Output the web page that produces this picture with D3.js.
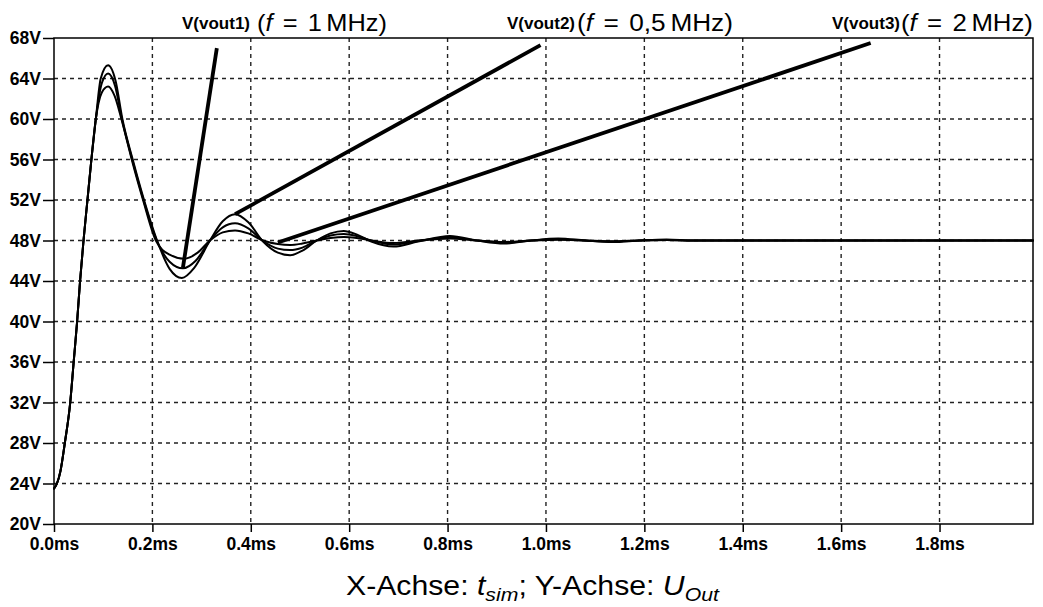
<!DOCTYPE html>
<html>
<head>
<meta charset="utf-8">
<script src="https://cdn.jsdelivr.net/npm/d3@7"></script>
<style>
  body { margin: 0; background: #fff; }
  svg { display: block; }
</style>
</head>
<body>
<svg id="chart" width="1043" height="607"></svg>
<script>
// Axis ticks
const timeTicks = [0, 0.2, 0.4, 0.6, 0.8, 1.0, 1.2, 1.4, 1.6, 1.8];
const timeTickLabels = ["0.0ms", "0.2ms", "0.4ms", "0.6ms", "0.8ms", "1.0ms", "1.2ms", "1.4ms", "1.6ms", "1.8ms"];
const voltTicks = [20, 24, 28, 32, 36, 40, 44, 48, 52, 56, 60, 64, 68];
const voltTickLabels = ["20V", "24V", "28V", "32V", "36V", "40V", "44V", "48V", "52V", "56V", "60V", "64V", "68V"];

// Output voltage traces: [time in ms, volts]
const vout1 = [
  [0, 23.5], [0.006, 24.0], [0.013, 25.2], [0.022, 28.0], [0.033, 32.0], [0.040, 36.0],
  [0.047, 40.0], [0.053, 44.0], [0.060, 48.0], [0.068, 52.0], [0.076, 56.0], [0.085, 60.0],
  [0.097, 63.5], [0.110, 64.5], [0.124, 63.3], [0.138, 60.0], [0.159, 56.0], [0.182, 52.0],
  [0.208, 48.1], [0.235, 45.9], [0.262, 45.25], [0.288, 46.0], [0.317, 48.0], [0.343, 49.3],
  [0.368, 49.7], [0.395, 49.2], [0.425, 47.95], [0.455, 47.2], [0.480, 47.05], [0.505, 47.3],
  [0.534, 48.0], [0.562, 48.5], [0.589, 48.65], [0.615, 48.45], [0.645, 48.0], [0.690, 47.6],
  [0.740, 47.95], [0.805, 48.3], [0.860, 48.0], [0.915, 47.8], [0.970, 48.0], [1.025, 48.12],
  [1.080, 48.0], [1.135, 47.9], [1.190, 48.0], [1.245, 48.06], [1.300, 48.0], [1.990, 48.0]
];
const vout2 = [
  [0, 23.5], [0.006, 24.0], [0.013, 25.2], [0.022, 28.0], [0.033, 32.0], [0.040, 36.0],
  [0.047, 40.0], [0.053, 44.0], [0.060, 48.0], [0.068, 52.0], [0.076, 56.0], [0.085, 60.0],
  [0.095, 64.0], [0.110, 65.3], [0.125, 63.8], [0.139, 60.0], [0.160, 56.0], [0.183, 52.0],
  [0.208, 48.2], [0.235, 45.2], [0.260, 44.3], [0.285, 45.3], [0.317, 48.0], [0.343, 49.9],
  [0.368, 50.6], [0.395, 49.8], [0.425, 47.9], [0.455, 46.8], [0.480, 46.55], [0.505, 47.0],
  [0.534, 48.0], [0.562, 48.7], [0.589, 48.95], [0.615, 48.6], [0.645, 47.9], [0.690, 47.4],
  [0.740, 47.9], [0.805, 48.45], [0.860, 48.0], [0.915, 47.7], [0.970, 48.0], [1.025, 48.2],
  [1.080, 48.0], [1.135, 47.85], [1.190, 48.0], [1.245, 48.1], [1.300, 48.0], [1.990, 48.0]
];
const vout3 = [
  [0, 23.5], [0.006, 24.0], [0.013, 25.2], [0.022, 28.0], [0.033, 32.0], [0.040, 36.0],
  [0.047, 40.0], [0.053, 44.0], [0.060, 48.0], [0.068, 52.0], [0.076, 56.0], [0.085, 60.0],
  [0.097, 62.6], [0.110, 63.2], [0.123, 62.3], [0.137, 60.0], [0.158, 56.0], [0.181, 52.0],
  [0.207, 48.0], [0.235, 46.6], [0.265, 46.2], [0.292, 46.8], [0.317, 48.0], [0.343, 48.8],
  [0.368, 49.0], [0.395, 48.7], [0.425, 48.0], [0.455, 47.65], [0.480, 47.55], [0.505, 47.7],
  [0.534, 48.0], [0.562, 48.25], [0.589, 48.35], [0.615, 48.25], [0.645, 48.0], [0.690, 47.75],
  [0.740, 48.0], [0.805, 48.2], [0.860, 48.0], [0.915, 47.85], [0.970, 48.0], [1.025, 48.08],
  [1.080, 48.0], [1.135, 47.92], [1.190, 48.0], [1.245, 48.04], [1.300, 48.0], [1.990, 48.0]
];

// Straight ramps that leave each trace
const vout1Ramp = [[0.262, 45.3], [0.331, 67.0]];
const vout2Ramp = [[0.368, 50.6], [0.989, 67.3]];
const vout3Ramp = [[0.455, 47.8], [1.660, 67.5]];

const traceNames = ["V(vout1)", "V(vout2)", "V(vout3)"];
const traceFreqs = ["1", "0,5", "2"];

// Layout
const plot = { left: 54, right: 1033, top: 38, bottom: 524 };
const labelPos = [
  { name: 182, formula: 257, end: 387 },
  { name: 507, formula: 577, end: 733 },
  { name: 832, formula: 901, end: 1033 }
];

const svg = d3.select("#chart");
const x = d3.scaleLinear().domain([0, 1.99]).range([plot.left, plot.right]);
const y = d3.scaleLinear().domain([20, 68]).range([plot.bottom, plot.top]);

const tickFont = "'Liberation Sans', Arial, sans-serif";

// Dashed grid
const grid = svg.append("g")
  .attr("stroke", "#222").attr("stroke-width", 1.4).attr("stroke-dasharray", "4,4");
grid.selectAll("line.v").data(timeTicks.slice(1)).join("line")
  .attr("x1", d => x(d)).attr("x2", d => x(d))
  .attr("y1", plot.top).attr("y2", plot.bottom);
grid.selectAll("line.h").data(voltTicks.slice(1, -1)).join("line")
  .attr("x1", plot.left).attr("x2", plot.right)
  .attr("y1", d => y(d)).attr("y2", d => y(d));

// Axes: ticks and labels
const yAxis = d3.axisLeft(y).tickValues(voltTicks)
  .tickFormat((d, i) => voltTickLabels[i]).tickSize(11).tickPadding(2);
const yG = svg.append("g").attr("transform", `translate(${plot.left},0)`).call(yAxis);
const xAxis = d3.axisBottom(x).tickValues(timeTicks)
  .tickFormat((d, i) => timeTickLabels[i]).tickSize(8).tickPadding(6);
const xG = svg.append("g").attr("transform", `translate(0,${plot.bottom})`).call(xAxis);
[yG, xG].forEach(g => {
  g.select(".domain").remove();
  g.selectAll(".tick line").attr("stroke", "#000").attr("stroke-width", 1.5);
  g.selectAll(".tick text").attr("fill", "#000")
    .style("font-family", tickFont).style("font-weight", "bold");
});
yG.selectAll(".tick text").style("font-size", "17.5px");
xG.selectAll(".tick text").style("font-size", "17.5px");

// Plot frame
svg.append("rect")
  .attr("x", plot.left).attr("y", plot.top)
  .attr("width", plot.right - plot.left).attr("height", plot.bottom - plot.top)
  .attr("fill", "none").attr("stroke", "#000").attr("stroke-width", 1.5);

// Traces
const line = d3.line().x(d => x(d[0])).y(d => y(d[1])).curve(d3.curveMonotoneX);
const traces = svg.append("g").attr("fill", "none").attr("stroke", "#000")
  .attr("stroke-linejoin", "round").attr("stroke-linecap", "round");
[vout3, vout1, vout2].forEach(s => {
  traces.append("path").attr("d", line(s)).attr("stroke-width", 2);
});
const ramp = d3.line().x(d => x(d[0])).y(d => y(d[1]));
[vout1Ramp, vout2Ramp, vout3Ramp].forEach(s => {
  traces.append("path").attr("d", ramp(s)).attr("stroke-width", 3.8).attr("stroke-linecap", "butt");
});

// Fit a text element horizontally between two x positions
function fitWidth(sel, x0, x1, yb) {
  sel.attr("x", 0).attr("y", 0);
  const b = sel.node().getBBox();
  const k = (x1 - x0) / b.width;
  sel.attr("transform", `translate(${x0 - b.x * k},${yb}) scale(${k},1)`);
}

// Trace names with frequencies
traceNames.forEach((name, i) => {
  const p = labelPos[i];
  svg.append("text").attr("x", p.name).attr("y", 29)
    .style("font-family", tickFont).style("font-weight", "bold").style("font-size", "17px")
    .text(name);
  const t = svg.append("text")
    .style("font-family", "'Liberation Sans', Arial, sans-serif").style("font-size", "24px");
  t.append("tspan").text("(");
  t.append("tspan").style("font-style", "italic").text("f");
  t.append("tspan").attr("dx", "0.4em").text("=");
  t.append("tspan").attr("dx", "0.4em").text(traceFreqs[i]);
  t.append("tspan").attr("dx", "0.18em").text("MHz)");
  fitWidth(t, p.formula, p.end, 31);
});

// Axis caption
const cap = svg.append("text")
  .style("font-family", "'Liberation Sans', Arial, sans-serif").style("font-size", "27px");
cap.append("tspan").text("X-Achse: ");
cap.append("tspan").style("font-style", "italic").text("t");
cap.append("tspan").style("font-style", "italic").style("font-size", "19px")
  .attr("dy", 6).text("sim");
cap.append("tspan").attr("dy", -6).text("; Y-Achse: ");
cap.append("tspan").style("font-style", "italic").text("U");
cap.append("tspan").style("font-style", "italic").style("font-size", "19px")
  .attr("dy", 6).text("Out");
fitWidth(cap, 346, 720, 595);
</script>
</body>
</html>
